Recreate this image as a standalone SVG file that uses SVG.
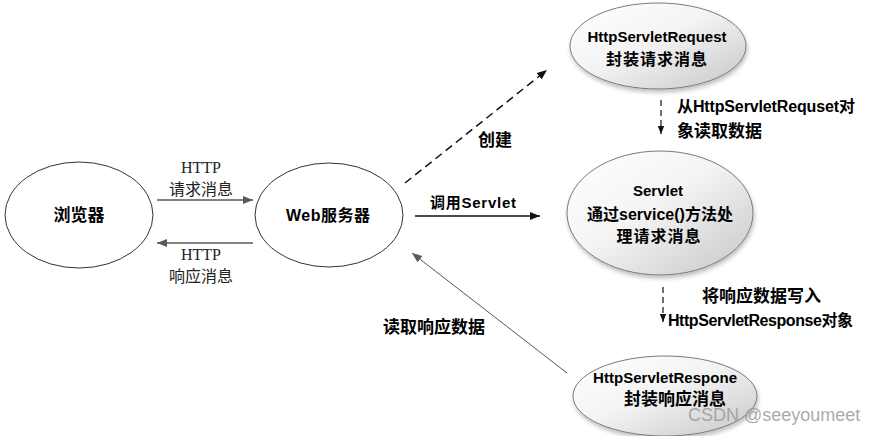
<svg xmlns="http://www.w3.org/2000/svg" width="884" height="436" viewBox="0 0 884 436">
<style>
.plain{fill:#fff;stroke:#333;stroke-width:1}
.shaded{fill:url(#g);stroke:#7a7a7a;stroke-width:1;filter:url(#sh)}
.t{font-family:"Liberation Sans","Noto Sans CJK SC",sans-serif;font-weight:bold;fill:#000}
.cn{font-family:"Noto Sans CJK SC",sans-serif;font-weight:bold;fill:#000}
.reg{font-family:"Liberation Serif","Noto Sans CJK SC",serif;fill:#222}
.cnreg{font-family:"Noto Sans CJK SC",sans-serif;fill:#222}
.gray{stroke:#5a5a5a;stroke-width:1.5;fill:none}
.blk{stroke:#111;stroke-width:1.5;fill:none}
.dash{stroke:#111;stroke-width:1.5;fill:none;stroke-dasharray:8 5}
.dash2{stroke:#111;stroke-width:1.2;fill:none;stroke-dasharray:6 4}
.thin{stroke:#555;stroke-width:1;fill:none}
</style>
<defs>
<linearGradient id="g" x1="0" y1="0" x2="1" y2="1">
<stop offset="0" stop-color="#ffffff"/>
<stop offset="0.45" stop-color="#f4f4f4"/>
<stop offset="1" stop-color="#c6c6c6"/>
</linearGradient>
<filter id="sh" x="-10%" y="-10%" width="125%" height="130%">
<feDropShadow dx="1" dy="3" stdDeviation="2" flood-color="#000" flood-opacity="0.25"/>
</filter>
<marker id="ag" viewBox="0 0 10 8" refX="10" refY="4" markerWidth="11" markerHeight="8" markerUnits="userSpaceOnUse" orient="auto">
<path d="M0,0 L10,4 L0,8 z" fill="#5a5a5a"/>
</marker>
<marker id="ab" viewBox="0 0 10 8" refX="10" refY="4" markerWidth="11" markerHeight="8" markerUnits="userSpaceOnUse" orient="auto">
<path d="M0,0 L10,4 L0,8 z" fill="#111"/>
</marker>
<marker id="as" viewBox="0 0 10 8" refX="10" refY="4" markerWidth="8" markerHeight="7" markerUnits="userSpaceOnUse" orient="auto">
<path d="M0,0 L10,4 L0,8 z" fill="#111"/>
</marker>
</defs>

<g id="connectors">
<line class="gray" x1="157" y1="200" x2="253" y2="200" marker-end="url(#ag)"/>
<line class="gray" x1="253" y1="243" x2="157" y2="243" marker-end="url(#ag)"/>
<line class="dash" x1="405" y1="183" x2="547" y2="70" marker-end="url(#ab)"/>
<line class="blk" x1="415" y1="216" x2="540" y2="216" marker-end="url(#ab)"/>
<line class="dash2" x1="661" y1="100" x2="661" y2="134" marker-end="url(#as)"/>
<line class="dash2" x1="663" y1="287" x2="663" y2="322" marker-end="url(#as)"/>
<line class="thin" x1="567" y1="373" x2="412" y2="253" marker-end="url(#ag)"/>
<text class="reg" x="201" y="173" font-size="16" text-anchor="middle">HTTP</text>
<text class="cnreg" x="201" y="195" font-size="16" text-anchor="middle">请求消息</text>
<text class="reg" x="201" y="260" font-size="16" text-anchor="middle">HTTP</text>
<text class="cnreg" x="201" y="282" font-size="16" text-anchor="middle">响应消息</text>
<text class="cn" x="478" y="146" font-size="17">创建</text>
<text class="t" x="430" y="208" font-size="15" textLength="86">调用Servlet</text>
<text class="t" x="677" y="112" font-size="16" textLength="178">从HttpServletRequset对</text>
<text class="cn" x="677" y="137" font-size="17">象读取数据</text>
<text class="cn" x="702" y="302" font-size="17">将响应数据写入</text>
<text class="t" x="668" y="326" font-size="16" textLength="185">HttpServletResponse对象</text>
<text class="cn" x="383" y="333" font-size="17">读取响应数据</text>
</g>

<g id="browser">
<ellipse class="plain" cx="79" cy="215" rx="74" ry="53"/>
<text class="cn" x="79" y="221" font-size="17" text-anchor="middle">浏览器</text>
</g>

<g id="webserver">
<ellipse class="plain" cx="329" cy="215" rx="74" ry="52"/>
<text class="t" x="328" y="221" font-size="16" text-anchor="middle" textLength="84">Web服务器</text>
</g>

<g id="request">
<ellipse class="shaded" cx="658" cy="46" rx="88" ry="43"/>
<text class="t" x="657" y="42" font-size="15" text-anchor="middle" textLength="139">HttpServletRequest</text>
<text class="cn" x="657" y="65" font-size="16" text-anchor="middle" letter-spacing="1">封装请求消息</text>
</g>

<g id="servlet">
<ellipse class="shaded" cx="660" cy="213" rx="93" ry="62"/>
<text class="t" x="658" y="196" font-size="15" text-anchor="middle">Servlet</text>
<text class="t" x="660" y="220" font-size="16" text-anchor="middle" textLength="146">通过service()方法处</text>
<text class="cn" x="659" y="242" font-size="16" text-anchor="middle" letter-spacing="1">理请求消息</text>
</g>

<g id="response">
<ellipse class="shaded" cx="665" cy="396" rx="92" ry="40"/>
<text class="t" x="665" y="383" font-size="15" text-anchor="middle" textLength="144">HttpServletRespone</text>
<text class="cn" x="675" y="405" font-size="17" text-anchor="middle">封装响应消息</text>
</g>

<text x="688" y="421" font-family="Liberation Sans,Arial,sans-serif" font-size="18" fill="#9a9a9a" fill-opacity="0.85">CSDN @seeyoumeet</text>
</svg>
